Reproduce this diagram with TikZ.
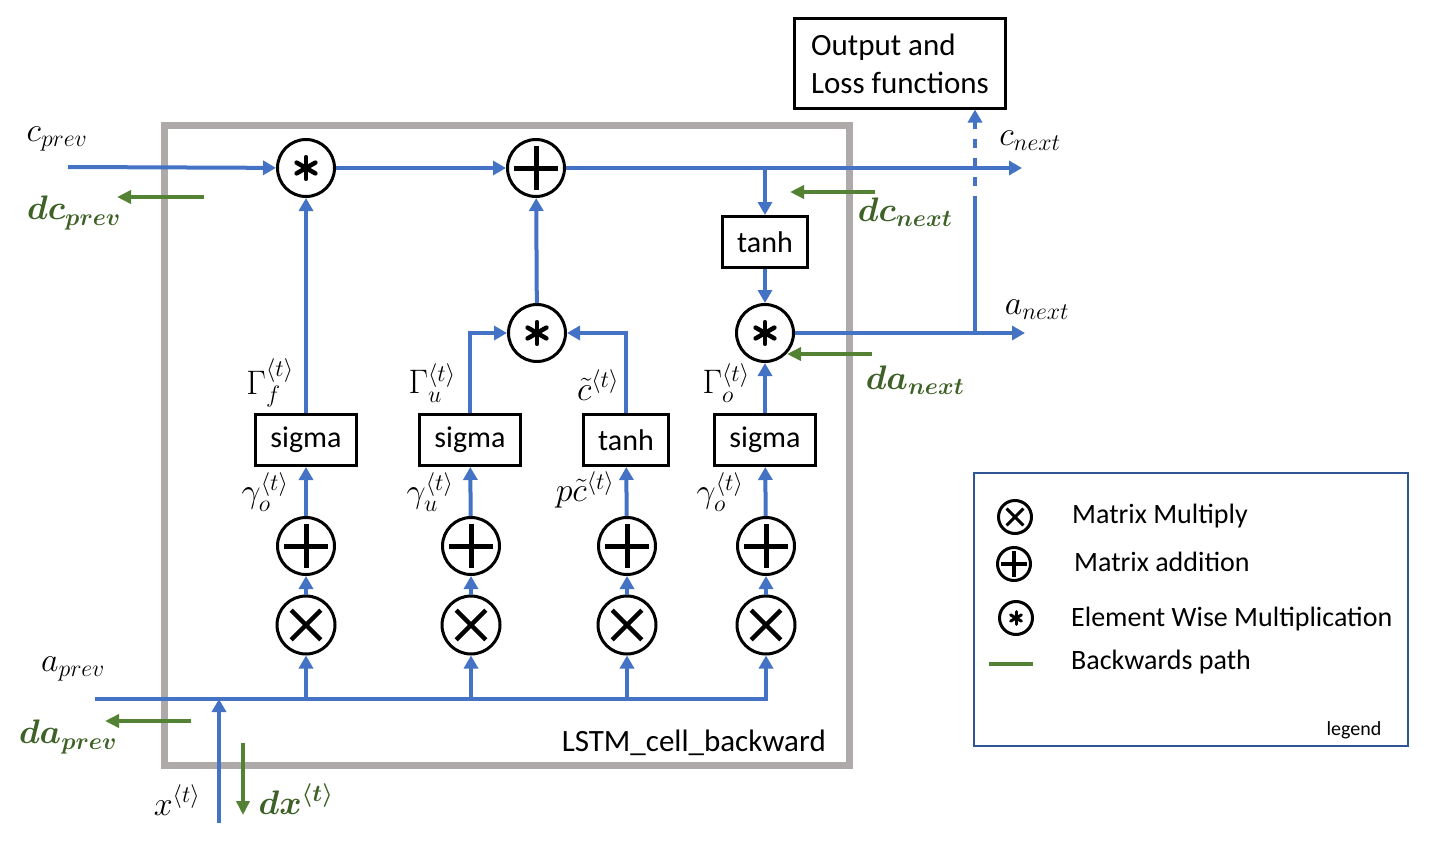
\documentclass[tikz,border=0pt]{standalone}
\usepackage{fix-cm}
\usepackage{amsmath,bm}
\usepackage{fontspec}
\setmainfont{Carlito}
\usetikzlibrary{arrows.meta,calc}
\definecolor{myblue}{HTML}{4472C4}
\definecolor{mygreen}{HTML}{548235}
\definecolor{labgreen}{HTML}{3D6126}
\definecolor{boxgray}{HTML}{AEAAAA}
\definecolor{legblue}{HTML}{2F5597}
\tikzset{
  opcirc/.style={circle, draw=black, line width=3pt, minimum size=#1, inner sep=0pt, fill=white},
  oplus/.style 2 args={opcirc=#1, path picture={\draw[line width=#2]
     (path picture bounding box.center) +(-0.38*#1pt,0pt) -- +(0.38*#1pt,0pt)
     (path picture bounding box.center) +(0pt,-0.38*#1pt) -- +(0pt,0.38*#1pt);}},
  otimes/.style 2 args={opcirc=#1, path picture={\draw[line width=#2]
     (path picture bounding box.center) +(-0.255*#1pt,-0.255*#1pt) -- +(0.255*#1pt,0.255*#1pt)
     (path picture bounding box.center) +(-0.255*#1pt,0.255*#1pt) -- +(0.255*#1pt,-0.255*#1pt);}},
  ostar/.style 2 args={opcirc=#1, path picture={\foreach \a in {30,90,...,330}
     \draw[line width=#2, line cap=round] (path picture bounding box.center) -- ++(\a:0.19*#1pt);}},
  fnbox/.style={draw=black, line width=3pt, minimum height=51pt, inner sep=0pt, font=\fontsize{30}{36}\selectfont},
  bl/.style={draw=myblue, line width=4pt},
  arr/.style={-{Triangle[width=14pt,length=13pt]}},
  gr/.style={draw=mygreen, line width=4pt, -{Triangle[width=13pt,length=14pt]}},
  mlab/.style={font=\fontsize{34}{40}\selectfont, inner sep=0pt},
  glab/.style={font=\fontsize{34}{40}\selectfont, inner sep=0pt, text=labgreen},
  legtxt/.style={font=\fontsize{28}{34}\selectfont, anchor=west, inner sep=0pt},
}
\begin{document}
\begin{tikzpicture}[x=1pt,y=-1pt]
\useasboundingbox (0,0) rectangle (1430,843);
% cell frame
\draw[draw=boxgray, line width=7pt] (164,125.5) rectangle (849,765);
\node[font=\fontsize{31}{37}\selectfont, anchor=east, inner sep=0pt] (celllab) at (826,743) {LSTM\_cell\_backward};

% top row
\node[ostar={57}{4.5pt}] (m1) at (306,168) {};
\node[oplus={57}{5pt}] (a1) at (536,168) {};
\node[fnbox, minimum width=85pt] (th1) at (765,242) {tanh};
\node[ostar={57}{4.5pt}] (m3) at (765,333) {};
\node[ostar={57}{4.5pt}] (m2) at (537,333) {};

% output box
\node[draw=black, line width=3pt, align=left, minimum width=211pt, minimum height=89pt,
      font=\fontsize{31}{38}\selectfont] (out) at (900,63.5) {Output and\\Loss functions};

% function boxes
\node[fnbox, minimum width=101pt] (s1) at (306,440) {\raisebox{-2pt}{sigma}};
\node[fnbox, minimum width=101pt] (s2) at (470,440) {\raisebox{-2pt}{sigma}};
\node[fnbox, minimum width=85pt] (t2) at (626,440) {tanh};
\node[fnbox, minimum width=101pt] (s4) at (765,440) {\raisebox{-2pt}{sigma}};

% plus / times rows
\foreach \n/\x in {1/306,2/471,3/627,4/766}{
  \node[oplus={57}{5pt}] (p\n) at (\x,546) {};
  \node[otimes={58}{4.5pt}] (x\n) at (\x,625) {};
}

% coordinates
\coordinate (cprevL) at (68,167);
\coordinate (cnextR) at (1022,168);
\coordinate (br1) at (765,168);
\coordinate (anextR) at (1025,333);
\coordinate (v0) at (975,333);
\coordinate (v1) at (975,205);
\coordinate (v2) at (975,128);
\coordinate (aprevL) at (95,699);
\coordinate (xtB) at (219,823);

% forward (blue) connectors
\draw[bl,arr] (cprevL) -- (m1);
\draw[bl,arr] (m1) -- (a1);
\draw[bl,arr] (a1) -- (cnextR);
\draw[bl,arr] (br1) -- (th1);
\draw[bl,arr] (th1) -- (m3);
\draw[bl,arr] (m3) -- (anextR);
\draw[bl] (v0) -- (v1);
\draw[bl, dash pattern=on 9pt off 10pt] (v1) -- (v2);
\draw[bl,arr] (v2) -- (v2 |- out.south);
\draw[bl,arr] (s1) -- (m1);
\draw[bl,arr] (s2) |- (m2);
\draw[bl,arr] (t2) |- (m2);
\draw[bl,arr] (m2) -- (a1);
\draw[bl,arr] (s4) -- (m3);
\draw[bl,arr] (p1) -- (s1);
\draw[bl,arr] (p2) -- (s2);
\draw[bl,arr] (p3) -- (t2);
\draw[bl,arr] (p4) -- (s4);
\foreach \n in {1,2,3,4}{ \draw[bl,arr] (x\n) -- (p\n); }
\draw[bl,arr] (aprevL) -| (x4);
\foreach \n in {1,2,3}{ \draw[bl,arr] (x\n |- aprevL) -- (x\n); }
\draw[bl,arr] (xtB) -- (xtB |- aprevL);

% backward (green) connectors
\coordinate (gcp1) at (204,197); \coordinate (gcp2) at (117,197);
\coordinate (gcn1) at (875,192); \coordinate (gcn2) at (790,192);
\coordinate (gan1) at (872,354); \coordinate (gan2) at (787,354);
\coordinate (gap1) at (191,721); \coordinate (gap2) at (105,721);
\coordinate (gx1) at (243,743); \coordinate (gx2) at (243,815);
\draw[gr] (gcp1) -- (gcp2);
\draw[gr] (gcn1) -- (gcn2);
\draw[gr] (gan1) -- (gan2);
\draw[gr] (gap1) -- (gap2);
\draw[gr] (gx1) -- (gx2);

% labels
\node[mlab] (lcp) at (57,139) {$c_{prev}$};
\node[glab] (ldcp) at (74,213) {$\bm{dc}_{\bm{prev}}$};
\node[mlab] (lcn) at (1030,141) {$c_{next}$};
\node[glab] (ldcn) at (905,212) {$\bm{dc}_{\bm{next}}$};
\node[mlab] (lan) at (1037,310) {$a_{next}$};
\node[glab] (ldan) at (915,380) {$\bm{da}_{\bm{next}}$};
\node[mlab] (lap) at (73,669) {$a_{prev}$};
\node[glab] (ldap) at (68,737) {$\bm{da}_{\bm{prev}}$};
\node[mlab] (lx) at (177,800) {$x^{\langle t\rangle}$};
\node[glab] (ldx) at (296,799) {$\bm{dx}^{\bm{\langle t\rangle}}$};

\node[mlab] (lgf) at (270,383) {$\Gamma_f^{\langle t\rangle}$};
\node[mlab] (lgu) at (432,383) {$\Gamma_u^{\langle t\rangle}$};
\node[mlab] (lct) at (598,385) {$\tilde{c}^{\langle t\rangle}$};
\node[mlab] (lgo) at (726,383) {$\Gamma_o^{\langle t\rangle}$};
\node[mlab] (lyo1) at (265,492) {$\gamma_o^{\langle t\rangle}$};
\node[mlab] (lyu) at (430,492) {$\gamma_u^{\langle t\rangle}$};
\node[mlab] (lpc) at (585,490) {$p\tilde{c}^{\langle t\rangle}$};
\node[mlab] (lyo2) at (720,492) {$\gamma_o^{\langle t\rangle}$};

% legend
\draw[draw=legblue, line width=2pt] (974,473) rectangle (1408,746);
\node[otimes={33}{3pt}] (lg1) at (1015,517) {};
\node[oplus={33}{3.5pt}] (lg2) at (1014,564) {};
\node[ostar={33}{3pt}] (lg3) at (1016,618) {};
\coordinate (lg4a) at (989,664); \coordinate (lg4b) at (1033,664);
\draw[draw=mygreen, line width=4pt] (lg4a) -- (lg4b);
\node[legtxt] (lt1) at (1072,516) {Matrix Multiply};
\node[legtxt] (lt2) at (1074,562) {Matrix addition};
\node[legtxt] (lt3) at (1071,619) {Element Wise Multiplication};
\node[legtxt] (lt4) at (1071,662) {Backwards path};
\node[font=\fontsize{20}{24}\selectfont, inner sep=0pt] (lt5) at (1354,730) {legend};
\end{tikzpicture}
\end{document}
